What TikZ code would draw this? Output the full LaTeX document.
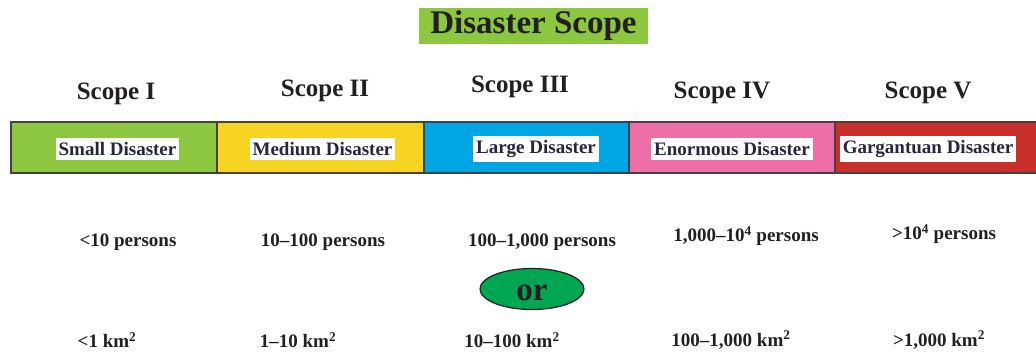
\documentclass[tikz,border=0pt]{standalone}
\usepackage{fontspec}
\setmainfont{Liberation Serif}
\usetikzlibrary{shapes.geometric}
\definecolor{tgreen}{HTML}{8DC63F}
\definecolor{cgreen}{HTML}{8DC63F}
\definecolor{cyellow}{HTML}{F9D423}
\definecolor{cblue}{HTML}{00A6E3}
\definecolor{cpink}{HTML}{EE6EA8}
\definecolor{cred}{HTML}{C9302C}
\definecolor{orgreen}{HTML}{00A651}
\definecolor{txt}{HTML}{231F20}
\definecolor{lbltxt}{HTML}{262640}
\begin{document}
\begin{tikzpicture}[x=1pt,y=-1pt,
  seg/.style={draw=txt!85,line width=1.5pt},
  scopelbl/.style={font=\fontsize{25}{28}\selectfont\bfseries,text=txt,anchor=center},
  boxlbl/.style={fill=white,inner xsep=3pt,inner ysep=4pt,font=\fontsize{19}{21}\selectfont\bfseries,text=lbltxt},
  vallbl/.style={font=\fontsize{19}{21}\selectfont\bfseries,text=txt}]
\useasboundingbox (0,0) rectangle (1036,354);
% title
\node[fill=tgreen,minimum width=229pt,minimum height=36pt,inner sep=0pt,
  font=\fontsize{33}{36}\selectfont\bfseries,text=txt] (title) at (533.5,26) {\raisebox{-2pt}{Disaster Scope}};
% scope labels
\node[scopelbl] (s1) at (116,94) {Scope I};
\node[scopelbl] (s2) at (325,91) {Scope II};
\node[scopelbl] (s3) at (520,87) {Scope III};
\node[scopelbl] (s4) at (722,93) {Scope IV};
\node[scopelbl] (s5) at (928,93) {Scope V};
% bar segments
\filldraw[seg,fill=cgreen] (11,122) rectangle (217,173);
\filldraw[seg,fill=cyellow] (217,122) rectangle (424,173);
\filldraw[seg,fill=cblue] (424,122) rectangle (629,173);
\filldraw[seg,fill=cpink] (629,122) rectangle (835,173);
\filldraw[seg,fill=cred] (835,122) rectangle (1040,173);
% box labels
\node[boxlbl] (b1) at (117.5,149) {Small Disaster};
\node[boxlbl] (b2) at (322.5,149) {Medium Disaster};
\node[boxlbl] (b3) at (536,149) {Large Disaster};
\node[boxlbl] (b4) at (732,149) {Enormous Disaster};
\node[boxlbl] (b5) at (928,149) {Gargantuan Disaster};
% persons
\node[vallbl] (p1) at (128,242) {<10 persons};
\node[vallbl] (p2) at (323,242) {10--100 persons};
\node[vallbl] (p3) at (542,242) {100--1,000 persons};
\node[vallbl] (p4) at (746,236) {1,000--10\textsuperscript{4} persons};
\node[vallbl] (p5) at (944,234) {>10\textsuperscript{4} persons};
% or
\node[ellipse,draw=txt,line width=1.2pt,fill=orgreen,minimum width=104pt,minimum height=41pt,inner sep=0pt,
  text height=15.5pt,text depth=0pt,
  font=\fontsize{33}{36}\selectfont\bfseries,text=txt] (or) at (532,289) {\raisebox{-4pt}{or}};
% areas
\node[vallbl] (a1) at (107,340) {<1 km\textsuperscript{2}};
\node[vallbl] (a2) at (298,340) {1--10 km\textsuperscript{2}};
\node[vallbl] (a3) at (512,340) {10--100 km\textsuperscript{2}};
\node[vallbl] (a4) at (731,340) {100--1,000 km\textsuperscript{2}};
\node[vallbl] (a5) at (939,340) {>1,000 km\textsuperscript{2}};
\end{tikzpicture}
\end{document}
